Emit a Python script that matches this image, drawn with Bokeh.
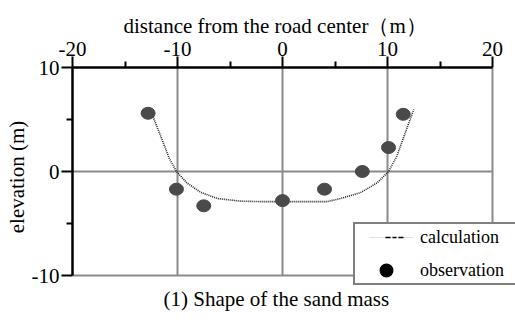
from bokeh.plotting import figure
from bokeh.models import (FixedTicker, Legend, LegendItem, Title, ColumnDataSource)
from bokeh.embed import file_html
from bokeh.resources import INLINE

# ---- data ----
x_ticks = [-20, -10, 0, 10, 20]
x_tick_labels = ["-20", "-10", "0", "10", "20"]
x_minor = [-15, -5, 5, 15]
y_ticks = [-10, 0, 10]
y_tick_labels = ["-10", "0", "10"]
y_minor = [-5, 5]

calc_x = [-12.5, -12.3, -11.6, -10.8, -10.1, -9.1, -7.8, -6.2, -4.0, -2.0, 0.0,
          2.0, 4.25, 5.5, 7.4, 9.0, 10.1, 10.9, 11.7, 12.5]
calc_y = [5.6, 5.2, 3.4, 1.3, 0.0, -1.1, -2.0, -2.6, -2.85, -2.9, -2.9,
          -2.9, -2.9, -2.6, -2.05, -1.1, 0.0, 1.5, 3.75, 5.96]

obs_x = [-12.8, -10.1, -7.5, 0.0, 4.0, 7.6, 10.1, 11.5]
obs_y = [5.6, -1.7, -3.3, -2.8, -1.7, 0.0, 2.3, 5.5]

# ---- layout (pixels) ----
FONT = "Liberation Serif"
FS = "21px"
W, H = 515, 322
LEFT, TOP = 72, 67                 # frame origin
PX_X, PX_Y = 10.5, 10.4            # pixels per unit
RIGHT_PAD, BOTTOM_PAD = 23, 11     # frame extends past the axes (room for legend)
x_lo, x_hi = x_ticks[0], x_ticks[-1]
y_lo, y_hi = y_ticks[0], y_ticks[-1]
frame_w = (x_hi - x_lo) * PX_X + RIGHT_PAD
frame_h = (y_hi - y_lo) * PX_Y + BOTTOM_PAD

p = figure(width=W, height=H,
           x_range=(x_lo, x_hi + RIGHT_PAD / PX_X),
           y_range=(y_lo - BOTTOM_PAD / PX_Y, y_hi),
           x_axis_location="above", y_axis_location="left",
           output_backend="svg", toolbar_location=None,
           min_border_left=LEFT, min_border_right=W - LEFT - int(frame_w),
           min_border_top=TOP, min_border_bottom=H - TOP - int(frame_h))
p.outline_line_color = None
p.background_fill_color = "white"
p.border_fill_color = "white"

# grids
p.xgrid.ticker = FixedTicker(ticks=x_ticks[1:])
p.ygrid.ticker = FixedTicker(ticks=y_ticks[:-1])
p.xgrid.cross_bounds = (y_lo, y_hi)
p.ygrid.cross_bounds = (x_lo, x_hi)
for g in (p.xgrid, p.ygrid):
    g.grid_line_color = "#8a8a8a"
    g.grid_line_width = 2

# axes
xa = p.xaxis[0]
xa.ticker = FixedTicker(ticks=x_ticks, minor_ticks=x_minor)
xa.major_label_overrides = {t: l for t, l in zip(x_ticks, x_tick_labels)}
xa.bounds = (x_lo, x_hi)
ya = p.yaxis[0]
ya.ticker = FixedTicker(ticks=y_ticks, minor_ticks=y_minor)
ya.major_label_overrides = {t: l for t, l in zip(y_ticks, y_tick_labels)}
ya.axis_label = "elevation (m)"
ya.bounds = (y_lo, y_hi)
for ax in (xa, ya):
    ax.axis_line_color = "black"
    ax.axis_line_width = 2.5
    ax.major_tick_line_color = "black"
    ax.major_tick_line_width = 2
    ax.minor_tick_line_color = "black"
    ax.minor_tick_line_width = 2
    ax.major_tick_in = 0
    ax.minor_tick_in = 0
    ax.major_tick_out = 11
    ax.minor_tick_out = 6
    ax.major_label_text_font = FONT
    ax.major_label_text_font_size = FS
    ax.major_label_text_color = "black"
    ax.major_label_standoff = 1
    ax.axis_label_text_font = FONT
    ax.axis_label_text_font_size = FS
    ax.axis_label_text_font_style = "normal"
    ax.axis_label_text_color = "black"
    ax.axis_label_standoff = 0
ya.major_tick_out = 11
ya.major_label_standoff = 2
ya.major_label_orientation = "horizontal"

# top axis title (placed as a title so it can sit where the reference has it)
p.add_layout(Title(text="distance from the road center\uff08m\uff09", align="left",
                   offset=51, standoff=2,
                   text_font=FONT, text_font_size=FS, text_font_style="normal",
                   text_color="black"), "above")

# calculation curve
p.line(calc_x, calc_y, line_color="#222222", line_width=1.6, line_dash="1 1")

# observation points
p.ellipse(obs_x, obs_y, width=14, height=12, width_units="screen",
          height_units="screen", fill_color="#4a4a4a", line_color="#4a4a4a")

# legend proxies (not drawn in the plot: NaN positions)
nan = float("nan")
proxy = ColumnDataSource(data=dict(x=[nan], y=[nan]))
faint_pattern = "0 14 " + "1 1 " * 22 + "0 100"
leg_faint = p.line("x", "y", source=proxy, line_color="#c0c0c0", line_width=1,
                   line_dash=faint_pattern)
leg_dash = p.line("x", "y", source=proxy, line_color="black", line_width=1.5,
                  line_dash="0 30 5 2 4 2 5 100")
leg_dot = p.scatter("x", "y", source=proxy, marker="circle", size=0,
                    fill_color="black", line_color="black", line_width=3.5)

legend = Legend(items=[LegendItem(label="calculation", renderers=[leg_faint, leg_dash]),
                       LegendItem(label="observation", renderers=[leg_dot])],
                location=(281, 1), orientation="vertical",
                padding=0, spacing=7, margin=0,
                glyph_width=62, glyph_height=26, label_height=26,
                label_standoff=3, label_width=96,
                label_text_font=FONT, label_text_font_size="18px",
                label_text_color="black",
                border_line_color="black", border_line_width=2,
                background_fill_color="white", background_fill_alpha=1.0)
p.add_layout(legend, "center")

p.add_layout(Title(text="(1) Shape of the sand mass", align="left",
                   text_font=FONT, text_font_size=FS, text_font_style="normal",
                   text_color="black", standoff=-3, offset=91), "below")

open("out.html", "w").write(file_html(p, INLINE))
